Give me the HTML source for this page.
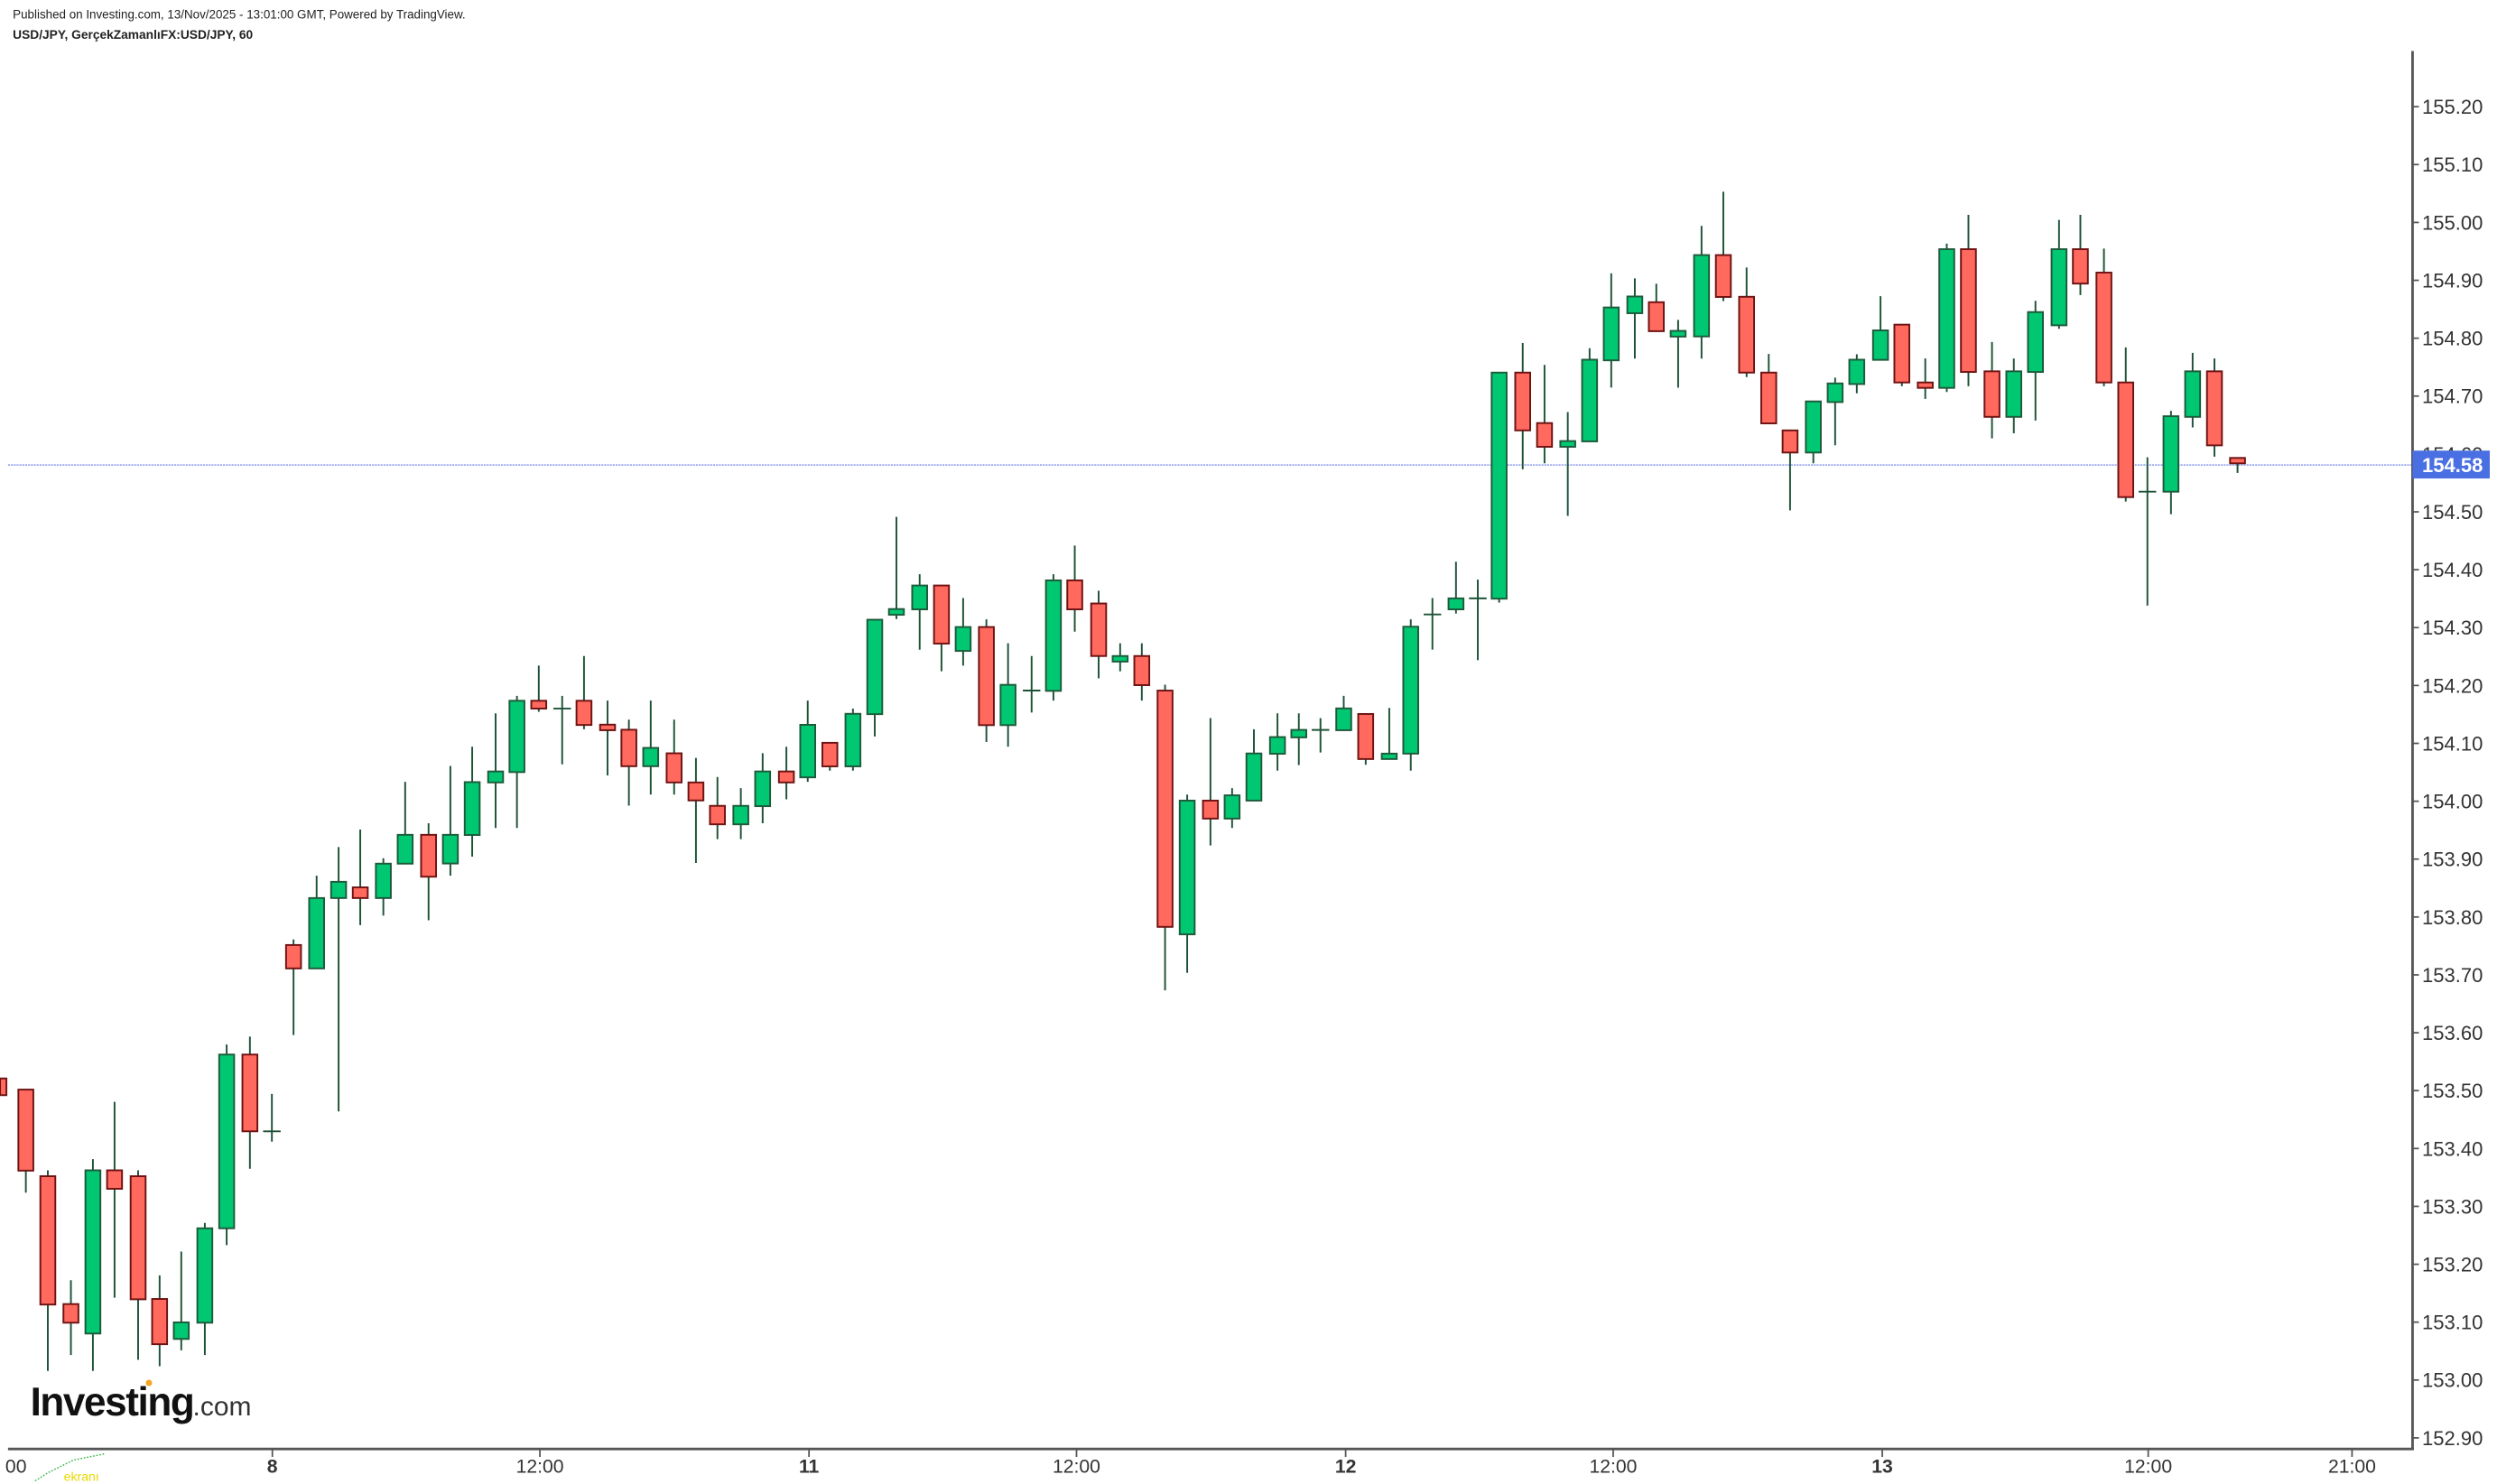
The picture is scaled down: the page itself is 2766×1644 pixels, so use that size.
<!DOCTYPE html>
<html><head><meta charset="utf-8"><style>
html,body{margin:0;padding:0;background:#fff;}
svg{display:block;}
.w{stroke:#1d5237;stroke-width:1.1;}
.g{fill:#00c872;stroke:#1d5a3a;stroke-width:1.1;}
.r{fill:#ff695e;stroke:#6e1212;stroke-width:1.1;}
.yl{font-family:"Liberation Sans",sans-serif;font-size:12.5px;fill:#333;}
.xl{font-family:"Liberation Sans",sans-serif;font-size:12px;fill:#333;text-anchor:middle;}
.tk{stroke:#555;stroke-width:1;}
</style></head><body>
<svg width="2766" height="1644" viewBox="0 0 1568 932" xmlns="http://www.w3.org/2000/svg">
<rect width="1568" height="932" fill="#fff"/>
<text x="8" y="11.5" font-family="Liberation Sans,sans-serif" font-size="7.6" fill="#222">Published on Investing.com, 13/Nov/2025 - 13:01:00 GMT, Powered by TradingView.</text>
<text x="8" y="24.5" font-family="Liberation Sans,sans-serif" font-size="7.8" font-weight="bold" fill="#222">USD/JPY, GerçekZamanlıFX:USD/JPY, 60</text>

<!-- price line -->
<line x1="5" y1="292" x2="1515" y2="292" stroke="#9aa8f0" stroke-width="1" stroke-dasharray="1.2,0.6"/>

<!-- candles -->
<rect class="r" x="0" y="677.3" width="4" height="10.5"/>
<line class="w" x1="16.2" y1="684" x2="16.2" y2="749"/><rect class="r" x="11.5" y="684.3" width="9.4" height="50.9"/>
<line class="w" x1="30" y1="735" x2="30" y2="861"/><rect class="r" x="25.3" y="738.7" width="9.4" height="80.6"/>
<line class="w" x1="44.5" y1="804" x2="44.5" y2="851"/><rect class="r" x="39.8" y="819" width="9.4" height="11.7"/>
<line class="w" x1="58.3" y1="728" x2="58.3" y2="861"/><rect class="g" x="53.6" y="735" width="9.4" height="102.5"/>
<line class="w" x1="71.9" y1="692" x2="71.9" y2="815"/><rect class="r" x="67.2" y="735" width="9.4" height="11.6"/>
<line class="w" x1="86.7" y1="735" x2="86.7" y2="854"/><rect class="r" x="82" y="738.7" width="9.4" height="77.3"/>
<line class="w" x1="100.2" y1="801" x2="100.2" y2="858"/><rect class="r" x="95.5" y="815.8" width="9.4" height="28.4"/>
<line class="w" x1="113.8" y1="786" x2="113.8" y2="848"/><rect class="g" x="109.1" y="830.5" width="9.4" height="10.4"/>
<line class="w" x1="128.6" y1="768" x2="128.6" y2="851"/><rect class="g" x="123.9" y="771.4" width="9.4" height="59.3"/>
<line class="w" x1="142.3" y1="656" x2="142.3" y2="782"/><rect class="g" x="137.6" y="662.3" width="9.4" height="109.1"/>
<line class="w" x1="156.9" y1="651" x2="156.9" y2="734"/><rect class="r" x="152.2" y="662.3" width="9.4" height="48.2"/>
<line class="w" x1="170.7" y1="687" x2="170.7" y2="717"/><line class="w" x1="165.2" y1="710.5" x2="176.2" y2="710.5"/>
<line class="w" x1="184.3" y1="590" x2="184.3" y2="650"/><rect class="r" x="179.6" y="593.5" width="9.4" height="14.7"/>
<line class="w" x1="198.8" y1="550" x2="198.8" y2="608"/><rect class="g" x="194.1" y="564" width="9.4" height="44.2"/>
<line class="w" x1="212.6" y1="532" x2="212.6" y2="698"/><rect class="g" x="207.9" y="553.8" width="9.4" height="10.2"/>
<line class="w" x1="226.2" y1="521" x2="226.2" y2="581"/><rect class="r" x="221.5" y="557.3" width="9.4" height="6.7"/>
<line class="w" x1="240.7" y1="539" x2="240.7" y2="575"/><rect class="g" x="236" y="542.4" width="9.4" height="21.6"/>
<line class="w" x1="254.4" y1="491" x2="254.4" y2="542"/><rect class="g" x="249.7" y="524.3" width="9.4" height="18.1"/>
<line class="w" x1="269.1" y1="517" x2="269.1" y2="578"/><rect class="r" x="264.4" y="524.3" width="9.4" height="26.3"/>
<line class="w" x1="282.8" y1="481" x2="282.8" y2="550"/><rect class="g" x="278.1" y="524.3" width="9.4" height="18"/>
<line class="w" x1="296.5" y1="469" x2="296.5" y2="538"/><rect class="g" x="291.8" y="491.2" width="9.4" height="33.2"/>
<line class="w" x1="311.2" y1="448" x2="311.2" y2="520"/><rect class="g" x="306.5" y="484.5" width="9.4" height="6.9"/>
<line class="w" x1="324.6" y1="437" x2="324.6" y2="520"/><rect class="g" x="319.9" y="440.1" width="9.4" height="44.8"/>
<line class="w" x1="338.3" y1="418" x2="338.3" y2="447"/><rect class="r" x="333.6" y="440.1" width="9.4" height="4.9"/>
<line class="w" x1="353" y1="437" x2="353" y2="480"/><line class="w" x1="347.5" y1="445" x2="358.5" y2="445"/>
<line class="w" x1="366.7" y1="412" x2="366.7" y2="458"/><rect class="r" x="362" y="440.1" width="9.4" height="15.2"/>
<line class="w" x1="381.5" y1="440" x2="381.5" y2="487"/><rect class="r" x="376.8" y="455.1" width="9.4" height="3.5"/>
<line class="w" x1="394.9" y1="452" x2="394.9" y2="506"/><rect class="r" x="390.2" y="458.3" width="9.4" height="22.9"/>
<line class="w" x1="408.6" y1="440" x2="408.6" y2="499"/><rect class="g" x="403.9" y="469.7" width="9.4" height="11.5"/>
<line class="w" x1="423.3" y1="452" x2="423.3" y2="499"/><rect class="r" x="418.6" y="473.1" width="9.4" height="18.3"/>
<line class="w" x1="437" y1="476" x2="437" y2="542"/><rect class="r" x="432.3" y="491.4" width="9.4" height="11.3"/>
<line class="w" x1="450.5" y1="488" x2="450.5" y2="527"/><rect class="r" x="445.8" y="506.1" width="9.4" height="11.6"/>
<line class="w" x1="465.2" y1="495" x2="465.2" y2="527"/><rect class="g" x="460.5" y="506.1" width="9.4" height="11.6"/>
<line class="w" x1="478.9" y1="473" x2="478.9" y2="517"/><rect class="g" x="474.2" y="484.5" width="9.4" height="21.8"/>
<line class="w" x1="493.8" y1="469" x2="493.8" y2="502"/><rect class="r" x="489.1" y="484.5" width="9.4" height="6.9"/>
<line class="w" x1="507.2" y1="440" x2="507.2" y2="491"/><rect class="g" x="502.5" y="455.2" width="9.4" height="33"/>
<line class="w" x1="521.1" y1="466.5" x2="521.1" y2="484"/><rect class="r" x="516.4" y="466.5" width="9.4" height="14.8"/>
<line class="w" x1="535.6" y1="445" x2="535.6" y2="484"/><rect class="g" x="530.9" y="448.3" width="9.4" height="33"/>
<line class="w" x1="549.3" y1="389" x2="549.3" y2="462.5"/><rect class="g" x="544.6" y="389.2" width="9.4" height="59.3"/>
<line class="w" x1="562.9" y1="324.6" x2="562.9" y2="388.8"/><rect class="g" x="558.2" y="382.5" width="9.4" height="3.6"/>
<line class="w" x1="577.5" y1="360.6" x2="577.5" y2="408"/><rect class="g" x="572.8" y="367.7" width="9.4" height="15"/>
<line class="w" x1="591.2" y1="367.7" x2="591.2" y2="421.6"/><rect class="r" x="586.5" y="367.7" width="9.4" height="36.5"/>
<line class="w" x1="604.8" y1="375.6" x2="604.8" y2="418"/><rect class="g" x="600.1" y="393.8" width="9.4" height="15"/>
<line class="w" x1="619.4" y1="389" x2="619.4" y2="466"/><rect class="r" x="614.7" y="393.8" width="9.4" height="61.6"/>
<line class="w" x1="633" y1="404" x2="633" y2="469"/><rect class="g" x="628.3" y="430.1" width="9.4" height="25.3"/>
<line class="w" x1="647.8" y1="412" x2="647.8" y2="447.5"/><line class="w" x1="642.3" y1="433.7" x2="653.3" y2="433.7"/>
<line class="w" x1="661.5" y1="360.6" x2="661.5" y2="440"/><rect class="g" x="656.8" y="364.5" width="9.4" height="69.4"/>
<line class="w" x1="674.9" y1="342.6" x2="674.9" y2="396.7"/><rect class="r" x="670.2" y="364.5" width="9.4" height="18.2"/>
<line class="w" x1="689.9" y1="371" x2="689.9" y2="426"/><rect class="r" x="685.2" y="379" width="9.4" height="33"/>
<line class="w" x1="703.4" y1="404" x2="703.4" y2="421.6"/><rect class="g" x="698.7" y="412" width="9.4" height="3.5"/>
<line class="w" x1="717" y1="404" x2="717" y2="440"/><rect class="r" x="712.3" y="412" width="9.4" height="18.3"/>
<line class="w" x1="731.6" y1="430" x2="731.6" y2="622"/><rect class="r" x="726.9" y="433.7" width="9.4" height="148.4"/>
<line class="w" x1="745.5" y1="499" x2="745.5" y2="611"/><rect class="g" x="740.8" y="502.8" width="9.4" height="84"/>
<line class="w" x1="760.1" y1="451" x2="760.1" y2="531"/><rect class="r" x="755.4" y="502.8" width="9.4" height="11.3"/>
<line class="w" x1="773.7" y1="495" x2="773.7" y2="520"/><rect class="g" x="769" y="499.5" width="9.4" height="14.6"/>
<line class="w" x1="787.4" y1="458" x2="787.4" y2="503"/><rect class="g" x="782.7" y="473.2" width="9.4" height="29.6"/>
<line class="w" x1="802.2" y1="448" x2="802.2" y2="484"/><rect class="g" x="797.5" y="462.9" width="9.4" height="10.5"/>
<line class="w" x1="815.6" y1="448" x2="815.6" y2="480.5"/><rect class="g" x="810.9" y="458.4" width="9.4" height="4.7"/>
<line class="w" x1="829.2" y1="451" x2="829.2" y2="472.6"/><line class="w" x1="823.7" y1="458.4" x2="834.7" y2="458.4"/>
<line class="w" x1="843.8" y1="437" x2="843.8" y2="458.6"/><rect class="g" x="839.1" y="444.9" width="9.4" height="13.7"/>
<line class="w" x1="857.6" y1="448.4" x2="857.6" y2="480.3"/><rect class="r" x="852.9" y="448.4" width="9.4" height="28.3"/>
<line class="w" x1="872.4" y1="444.6" x2="872.4" y2="476.7"/><rect class="g" x="867.7" y="473.3" width="9.4" height="3.4"/>
<line class="w" x1="885.9" y1="389" x2="885.9" y2="484"/><rect class="g" x="881.2" y="393.6" width="9.4" height="79.7"/>
<line class="w" x1="899.5" y1="375.6" x2="899.5" y2="408"/><line class="w" x1="894" y1="385.9" x2="905" y2="385.9"/>
<line class="w" x1="914.3" y1="352.8" x2="914.3" y2="385.3"/><rect class="g" x="909.6" y="375.8" width="9.4" height="6.9"/>
<line class="w" x1="928" y1="364" x2="928" y2="414.6"/><line class="w" x1="922.5" y1="375.8" x2="933.5" y2="375.8"/>
<line class="w" x1="941.4" y1="234" x2="941.4" y2="378.5"/><rect class="g" x="936.7" y="234" width="9.4" height="142"/>
<line class="w" x1="956.2" y1="215.4" x2="956.2" y2="294.7"/><rect class="r" x="951.5" y="234" width="9.4" height="36.3"/>
<line class="w" x1="969.9" y1="229.2" x2="969.9" y2="291"/><rect class="r" x="965.2" y="265.7" width="9.4" height="14.9"/>
<line class="w" x1="984.5" y1="258.8" x2="984.5" y2="324"/><rect class="g" x="979.8" y="277" width="9.4" height="3.6"/>
<line class="w" x1="998.2" y1="218.7" x2="998.2" y2="277.2"/><rect class="g" x="993.5" y="225.9" width="9.4" height="51.3"/>
<line class="w" x1="1011.8" y1="171.6" x2="1011.8" y2="243.4"/><rect class="g" x="1007.1" y="193.1" width="9.4" height="33.2"/>
<line class="w" x1="1026.6" y1="174.8" x2="1026.6" y2="225.2"/><rect class="g" x="1021.9" y="186.2" width="9.4" height="10.5"/>
<line class="w" x1="1040.1" y1="178.2" x2="1040.1" y2="208"/><rect class="r" x="1035.4" y="189.8" width="9.4" height="18.2"/>
<line class="w" x1="1053.8" y1="200.9" x2="1053.8" y2="243.5"/><rect class="g" x="1049.1" y="207.8" width="9.4" height="3.6"/>
<line class="w" x1="1068.5" y1="141.9" x2="1068.5" y2="225.2"/><rect class="g" x="1063.8" y="160.2" width="9.4" height="51.1"/>
<line class="w" x1="1082.2" y1="120.4" x2="1082.2" y2="189.1"/><rect class="r" x="1077.5" y="160.2" width="9.4" height="26.3"/>
<line class="w" x1="1096.8" y1="168" x2="1096.8" y2="236.8"/><rect class="r" x="1092.1" y="186.4" width="9.4" height="47.6"/>
<line class="w" x1="1110.7" y1="222.3" x2="1110.7" y2="265.9"/><rect class="r" x="1106" y="234" width="9.4" height="31.9"/>
<line class="w" x1="1124.1" y1="270.3" x2="1124.1" y2="320.5"/><rect class="r" x="1119.4" y="270.3" width="9.4" height="13.9"/>
<line class="w" x1="1138.7" y1="252.1" x2="1138.7" y2="291"/><rect class="g" x="1134" y="252.1" width="9.4" height="32.1"/>
<line class="w" x1="1152.4" y1="237.2" x2="1152.4" y2="279.6"/><rect class="g" x="1147.7" y="240.8" width="9.4" height="11.7"/>
<line class="w" x1="1166" y1="222.5" x2="1166" y2="247"/><rect class="g" x="1161.3" y="225.9" width="9.4" height="15.3"/>
<line class="w" x1="1180.9" y1="186" x2="1180.9" y2="226"/><rect class="g" x="1176.2" y="207.5" width="9.4" height="18.5"/>
<line class="w" x1="1194.3" y1="203.9" x2="1194.3" y2="242.6"/><rect class="r" x="1189.6" y="203.9" width="9.4" height="36.3"/>
<line class="w" x1="1209" y1="225.1" x2="1209" y2="250.5"/><rect class="r" x="1204.3" y="240.2" width="9.4" height="3.4"/>
<line class="w" x1="1222.5" y1="153" x2="1222.5" y2="246.2"/><rect class="g" x="1217.8" y="156.5" width="9.4" height="87.1"/>
<line class="w" x1="1236.1" y1="134.9" x2="1236.1" y2="242.6"/><rect class="r" x="1231.4" y="156.5" width="9.4" height="77.1"/>
<line class="w" x1="1250.9" y1="214.8" x2="1250.9" y2="275.3"/><rect class="r" x="1246.2" y="233.2" width="9.4" height="28.6"/>
<line class="w" x1="1264.6" y1="225.1" x2="1264.6" y2="272.1"/><rect class="g" x="1259.9" y="233.2" width="9.4" height="28.6"/>
<line class="w" x1="1278.2" y1="188.9" x2="1278.2" y2="264.1"/><rect class="g" x="1273.5" y="196" width="9.4" height="37.6"/>
<line class="w" x1="1293" y1="138.1" x2="1293" y2="206.5"/><rect class="g" x="1288.3" y="156.5" width="9.4" height="47.8"/>
<line class="w" x1="1306.4" y1="134.9" x2="1306.4" y2="185.3"/><rect class="r" x="1301.7" y="156.5" width="9.4" height="21.6"/>
<line class="w" x1="1321.2" y1="156.1" x2="1321.2" y2="242.6"/><rect class="r" x="1316.5" y="171.2" width="9.4" height="69"/>
<line class="w" x1="1334.9" y1="218.2" x2="1334.9" y2="315"/><rect class="r" x="1330.2" y="240.2" width="9.4" height="72"/>
<line class="w" x1="1348.5" y1="287.2" x2="1348.5" y2="380.3"/><line class="w" x1="1343" y1="308.8" x2="1354" y2="308.8"/>
<line class="w" x1="1363.3" y1="258" x2="1363.3" y2="322.9"/><rect class="g" x="1358.6" y="261.4" width="9.4" height="47.4"/>
<line class="w" x1="1376.9" y1="221.6" x2="1376.9" y2="268.4"/><rect class="g" x="1372.2" y="233.2" width="9.4" height="28.6"/>
<line class="w" x1="1390.6" y1="225.1" x2="1390.6" y2="286.8"/><rect class="r" x="1385.9" y="233.2" width="9.4" height="46.5"/>
<line class="w" x1="1405.1" y1="287.6" x2="1405.1" y2="297"/><rect class="r" x="1400.4" y="287.6" width="9.4" height="3.4"/>

<!-- axes -->
<line x1="1515" y1="32" x2="1515" y2="910.5" stroke="#555" stroke-width="1.6"/>
<line x1="5" y1="910" x2="1515.8" y2="910" stroke="#555" stroke-width="1.6"/>

<!-- y ticks and labels -->
<g class="tk">
<line x1="1515" y1="67" x2="1519" y2="67"/><line x1="1515" y1="103.35" x2="1519" y2="103.35"/><line x1="1515" y1="139.7" x2="1519" y2="139.7"/><line x1="1515" y1="176.05" x2="1519" y2="176.05"/><line x1="1515" y1="212.4" x2="1519" y2="212.4"/><line x1="1515" y1="248.75" x2="1519" y2="248.75"/><line x1="1515" y1="285.1" x2="1519" y2="285.1"/><line x1="1515" y1="321.45" x2="1519" y2="321.45"/><line x1="1515" y1="357.8" x2="1519" y2="357.8"/><line x1="1515" y1="394.15" x2="1519" y2="394.15"/><line x1="1515" y1="430.5" x2="1519" y2="430.5"/><line x1="1515" y1="466.85" x2="1519" y2="466.85"/><line x1="1515" y1="503.2" x2="1519" y2="503.2"/><line x1="1515" y1="539.55" x2="1519" y2="539.55"/><line x1="1515" y1="575.9" x2="1519" y2="575.9"/><line x1="1515" y1="612.25" x2="1519" y2="612.25"/><line x1="1515" y1="648.6" x2="1519" y2="648.6"/><line x1="1515" y1="684.95" x2="1519" y2="684.95"/><line x1="1515" y1="721.3" x2="1519" y2="721.3"/><line x1="1515" y1="757.65" x2="1519" y2="757.65"/><line x1="1515" y1="794" x2="1519" y2="794"/><line x1="1515" y1="830.35" x2="1519" y2="830.35"/><line x1="1515" y1="866.7" x2="1519" y2="866.7"/><line x1="1515" y1="903.05" x2="1519" y2="903.05"/>
</g>
<g class="yl">
<text x="1521" y="71.5">155.20</text><text x="1521" y="107.8">155.10</text><text x="1521" y="144.2">155.00</text><text x="1521" y="180.5">154.90</text><text x="1521" y="216.9">154.80</text><text x="1521" y="253.2">154.70</text><text x="1521" y="289.6">154.60</text><text x="1521" y="325.9">154.50</text><text x="1521" y="362.3">154.40</text><text x="1521" y="398.6">154.30</text><text x="1521" y="435">154.20</text><text x="1521" y="471.3">154.10</text><text x="1521" y="507.7">154.00</text><text x="1521" y="544">153.90</text><text x="1521" y="580.4">153.80</text><text x="1521" y="616.7">153.70</text><text x="1521" y="653.1">153.60</text><text x="1521" y="689.4">153.50</text><text x="1521" y="725.8">153.40</text><text x="1521" y="762.1">153.30</text><text x="1521" y="798.5">153.20</text><text x="1521" y="834.8">153.10</text><text x="1521" y="871.2">153.00</text><text x="1521" y="907.5">152.90</text>
</g>
<rect x="1515" y="283" width="48.5" height="17.5" fill="#4a6fe3"/>
<text x="1521" y="296.6" font-family="Liberation Sans,sans-serif" font-size="12.5" font-weight="bold" fill="#fff">154.58</text>

<!-- x ticks and labels -->
<g class="tk">
<line x1="171" y1="910" x2="171" y2="915"/><line x1="339" y1="910" x2="339" y2="915"/><line x1="508" y1="910" x2="508" y2="915"/><line x1="676" y1="910" x2="676" y2="915"/><line x1="845" y1="910" x2="845" y2="915"/><line x1="1013" y1="910" x2="1013" y2="915"/><line x1="1182" y1="910" x2="1182" y2="915"/><line x1="1349" y1="910" x2="1349" y2="915"/><line x1="1477" y1="910" x2="1477" y2="915"/>
</g>
<g class="xl">
<text x="10" y="925">00</text>
<text x="171" y="925" font-weight="bold">8</text>
<text x="339" y="925">12:00</text>
<text x="508" y="925" font-weight="bold">11</text>
<text x="676" y="925">12:00</text>
<text x="845" y="925" font-weight="bold">12</text>
<text x="1013" y="925">12:00</text>
<text x="1182" y="925" font-weight="bold">13</text>
<text x="1349" y="925">12:00</text>
<text x="1477" y="925">21:00</text>
</g>

<!-- logo -->
<text x="19" y="889" font-family="Liberation Sans,sans-serif" font-size="25" font-weight="bold" fill="#111" letter-spacing="-0.8">Investing</text>
<text x="121" y="889" font-family="Liberation Sans,sans-serif" font-size="17" fill="#333">.com</text>
<circle cx="93.5" cy="868.5" r="2" fill="#f5a623"/>
<text x="40" y="930" font-family="Liberation Sans,sans-serif" font-size="8" fill="#e8d800">ekranı</text>
<polyline points="22,930 30,925 38,921 46,917 56,915 66,913" fill="none" stroke="#3ab54a" stroke-width="0.8" stroke-dasharray="1,1"/>
</svg>
</body></html>
